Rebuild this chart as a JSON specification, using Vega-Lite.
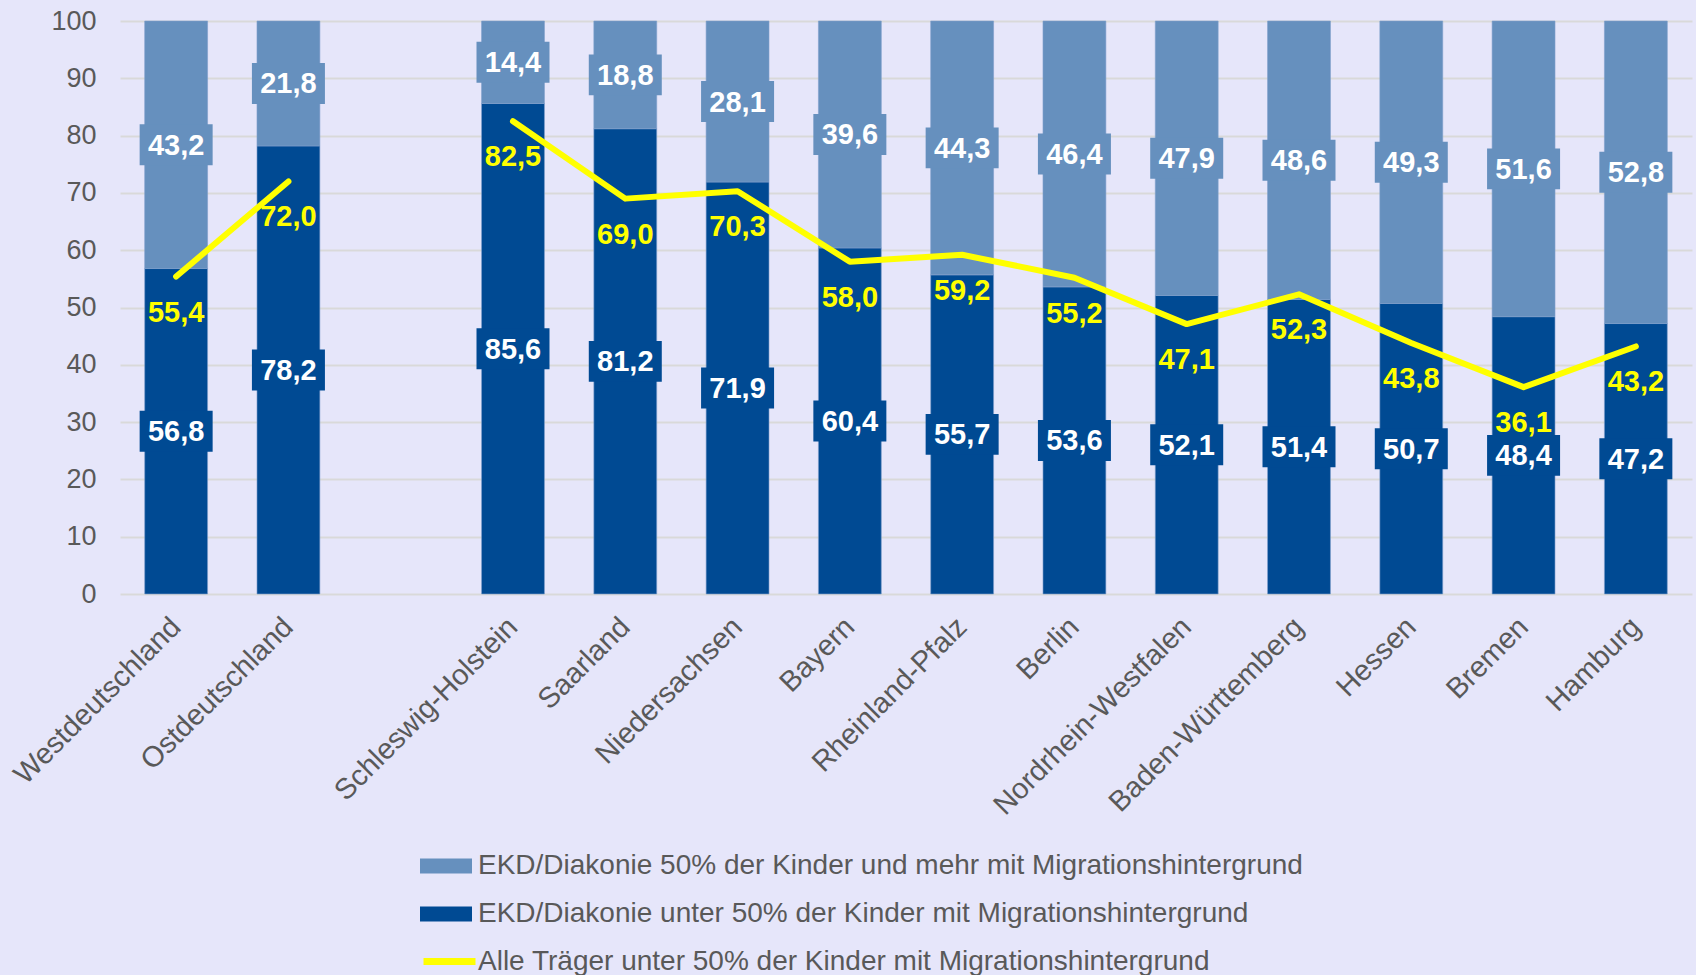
{
  "$schema": "https://vega.github.io/schema/vega-lite/v6.json",
  "autosize": {"type": "none"},
  "padding": {"left": 120, "top": 21, "right": 4, "bottom": 381},
  "width": 1572,
  "height": 573,
  "background": "#E6E6FA",
  "config": {
    "font": "Liberation Sans",
    "view": {"stroke": null},
    "axis": {"labelColor": "#595959", "titleColor": "#595959"},
    "locale": {"number": {"decimal": ",", "thousands": ".", "grouping": [3], "currency": ["", " €"]}}
  },
  "datasets": {
    "bars": [
      {"region": "Westdeutschland", "serie": "EKD/Diakonie unter 50% der Kinder mit Migrationshintergrund", "wert": 56.8},
      {"region": "Westdeutschland", "serie": "EKD/Diakonie 50% der Kinder und mehr mit Migrationshintergrund", "wert": 43.2},
      {"region": "Ostdeutschland", "serie": "EKD/Diakonie unter 50% der Kinder mit Migrationshintergrund", "wert": 78.2},
      {"region": "Ostdeutschland", "serie": "EKD/Diakonie 50% der Kinder und mehr mit Migrationshintergrund", "wert": 21.8},
      {"region": "Schleswig-Holstein", "serie": "EKD/Diakonie unter 50% der Kinder mit Migrationshintergrund", "wert": 85.6},
      {"region": "Schleswig-Holstein", "serie": "EKD/Diakonie 50% der Kinder und mehr mit Migrationshintergrund", "wert": 14.4},
      {"region": "Saarland", "serie": "EKD/Diakonie unter 50% der Kinder mit Migrationshintergrund", "wert": 81.2},
      {"region": "Saarland", "serie": "EKD/Diakonie 50% der Kinder und mehr mit Migrationshintergrund", "wert": 18.8},
      {"region": "Niedersachsen", "serie": "EKD/Diakonie unter 50% der Kinder mit Migrationshintergrund", "wert": 71.9},
      {"region": "Niedersachsen", "serie": "EKD/Diakonie 50% der Kinder und mehr mit Migrationshintergrund", "wert": 28.1},
      {"region": "Bayern", "serie": "EKD/Diakonie unter 50% der Kinder mit Migrationshintergrund", "wert": 60.4},
      {"region": "Bayern", "serie": "EKD/Diakonie 50% der Kinder und mehr mit Migrationshintergrund", "wert": 39.6},
      {"region": "Rheinland-Pfalz", "serie": "EKD/Diakonie unter 50% der Kinder mit Migrationshintergrund", "wert": 55.7},
      {"region": "Rheinland-Pfalz", "serie": "EKD/Diakonie 50% der Kinder und mehr mit Migrationshintergrund", "wert": 44.3},
      {"region": "Berlin", "serie": "EKD/Diakonie unter 50% der Kinder mit Migrationshintergrund", "wert": 53.6},
      {"region": "Berlin", "serie": "EKD/Diakonie 50% der Kinder und mehr mit Migrationshintergrund", "wert": 46.4},
      {"region": "Nordrhein-Westfalen", "serie": "EKD/Diakonie unter 50% der Kinder mit Migrationshintergrund", "wert": 52.1},
      {"region": "Nordrhein-Westfalen", "serie": "EKD/Diakonie 50% der Kinder und mehr mit Migrationshintergrund", "wert": 47.9},
      {"region": "Baden-Württemberg", "serie": "EKD/Diakonie unter 50% der Kinder mit Migrationshintergrund", "wert": 51.4},
      {"region": "Baden-Württemberg", "serie": "EKD/Diakonie 50% der Kinder und mehr mit Migrationshintergrund", "wert": 48.6},
      {"region": "Hessen", "serie": "EKD/Diakonie unter 50% der Kinder mit Migrationshintergrund", "wert": 50.7},
      {"region": "Hessen", "serie": "EKD/Diakonie 50% der Kinder und mehr mit Migrationshintergrund", "wert": 49.3},
      {"region": "Bremen", "serie": "EKD/Diakonie unter 50% der Kinder mit Migrationshintergrund", "wert": 48.4},
      {"region": "Bremen", "serie": "EKD/Diakonie 50% der Kinder und mehr mit Migrationshintergrund", "wert": 51.6},
      {"region": "Hamburg", "serie": "EKD/Diakonie unter 50% der Kinder mit Migrationshintergrund", "wert": 47.2},
      {"region": "Hamburg", "serie": "EKD/Diakonie 50% der Kinder und mehr mit Migrationshintergrund", "wert": 52.8}
    ],
    "linie": [
      {"region": "Westdeutschland", "abschnitt": "Deutschland", "reihe": "Alle Träger unter 50% der Kinder mit Migrationshintergrund", "wert": 55.4},
      {"region": "Ostdeutschland", "abschnitt": "Deutschland", "reihe": "Alle Träger unter 50% der Kinder mit Migrationshintergrund", "wert": 72.0},
      {"region": "Schleswig-Holstein", "abschnitt": "Länder", "reihe": "Alle Träger unter 50% der Kinder mit Migrationshintergrund", "wert": 82.5},
      {"region": "Saarland", "abschnitt": "Länder", "reihe": "Alle Träger unter 50% der Kinder mit Migrationshintergrund", "wert": 69.0},
      {"region": "Niedersachsen", "abschnitt": "Länder", "reihe": "Alle Träger unter 50% der Kinder mit Migrationshintergrund", "wert": 70.3},
      {"region": "Bayern", "abschnitt": "Länder", "reihe": "Alle Träger unter 50% der Kinder mit Migrationshintergrund", "wert": 58.0},
      {"region": "Rheinland-Pfalz", "abschnitt": "Länder", "reihe": "Alle Träger unter 50% der Kinder mit Migrationshintergrund", "wert": 59.2},
      {"region": "Berlin", "abschnitt": "Länder", "reihe": "Alle Träger unter 50% der Kinder mit Migrationshintergrund", "wert": 55.2},
      {"region": "Nordrhein-Westfalen", "abschnitt": "Länder", "reihe": "Alle Träger unter 50% der Kinder mit Migrationshintergrund", "wert": 47.1},
      {"region": "Baden-Württemberg", "abschnitt": "Länder", "reihe": "Alle Träger unter 50% der Kinder mit Migrationshintergrund", "wert": 52.3},
      {"region": "Hessen", "abschnitt": "Länder", "reihe": "Alle Träger unter 50% der Kinder mit Migrationshintergrund", "wert": 43.8},
      {"region": "Bremen", "abschnitt": "Länder", "reihe": "Alle Träger unter 50% der Kinder mit Migrationshintergrund", "wert": 36.1},
      {"region": "Hamburg", "abschnitt": "Länder", "reihe": "Alle Träger unter 50% der Kinder mit Migrationshintergrund", "wert": 43.2}
    ]
  },
  "layer": [
    {
      "data": {"name": "bars"},
      "transform": [
        {"stack": "wert", "groupby": ["region"], "sort": [{"field": "serie", "order": "descending"}], "as": ["v0", "v1"]},
        {"calculate": "(datum.v0 + datum.v1) / 2", "as": "mitte"}
      ],
      "layer": [
        {
          "mark": {"type": "bar", "stroke": "#7E9FCB", "strokeWidth": 1, "strokeOpacity": 0.6},
          "encoding": {
            "x": {
              "field": "region", "type": "nominal", "sort": null,
              "scale": {"domain": ["Westdeutschland", "Ostdeutschland", " ", "Schleswig-Holstein", "Saarland", "Niedersachsen", "Bayern", "Rheinland-Pfalz", "Berlin", "Nordrhein-Westfalen", "Baden-Württemberg", "Hessen", "Bremen", "Hamburg"], "paddingInner": 0.44, "paddingOuter": 0.22},
              "axis": {"title": null, "labelAngle": -45, "labelFontSize": 29, "labelPadding": 18, "labelOffset": -10, "ticks": false, "domain": false, "labelLimit": 400}
            },
            "y": {
              "field": "v0", "type": "quantitative",
              "scale": {"domain": [0, 100], "nice": false},
              "axis": {"title": null, "values": [0, 10, 20, 30, 40, 50, 60, 70, 80, 90, 100], "labelFontSize": 27, "labelPadding": 24, "ticks": false, "domain": false, "gridColor": "#D9D9D9", "gridWidth": 2}
            },
            "y2": {"field": "v1"},
            "color": {
              "field": "serie", "type": "nominal",
              "scale": {
                "domain": ["EKD/Diakonie 50% der Kinder und mehr mit Migrationshintergrund", "EKD/Diakonie unter 50% der Kinder mit Migrationshintergrund"],
                "range": ["#6690BE", "#004A93"]
              },
              "legend": {
                "title": null, "orient": "none", "legendX": 300, "legendY": 819, "direction": "vertical",
                "labelFontSize": 28, "labelColor": "#595959", "labelLimit": 1200, "labelOffset": 6,
                "symbolType": "M-1,-0.29H1V0.29H-1Z", "symbolSize": 2704, "symbolStrokeWidth": 0, "symbolOpacity": 1, "rowPadding": 8
              }
            }
          }
        },
        {
          "mark": {"type": "point", "filled": true, "opacity": 1, "size": 5329, "shape": "M-1,-0.56H1V0.56H-1Z"},
          "encoding": {
            "x": {"field": "region", "type": "nominal", "sort": null},
            "y": {"field": "mitte", "type": "quantitative"},
            "fill": {
              "condition": {"test": "datum.serie === 'EKD/Diakonie unter 50% der Kinder mit Migrationshintergrund'", "value": "#004A93"},
              "value": "#6690BE"
            }
          }
        },
        {
          "mark": {"type": "text", "fontSize": 29, "fontWeight": "bold", "color": "white", "baseline": "middle", "align": "center", "dy": 1},
          "encoding": {
            "x": {"field": "region", "type": "nominal", "sort": null},
            "y": {"field": "mitte", "type": "quantitative"},
            "text": {"field": "wert", "type": "quantitative", "format": ".1f"}
          }
        }
      ]
    },
    {
      "data": {"name": "linie"},
      "layer": [
        {
          "mark": {"type": "line", "strokeWidth": 6, "strokeCap": "round", "strokeJoin": "round"},
          "encoding": {
            "x": {"field": "region", "type": "nominal", "sort": null},
            "y": {"field": "wert", "type": "quantitative"},
            "detail": {"field": "abschnitt"},
            "stroke": {
              "field": "reihe", "type": "nominal",
              "scale": {"domain": ["Alle Träger unter 50% der Kinder mit Migrationshintergrund"], "range": ["#FFFF00"]},
              "legend": {
                "title": null, "orient": "none", "legendX": 300, "legendY": 911, "direction": "vertical",
                "labelFontSize": 28, "labelColor": "#595959", "labelLimit": 1200, "labelOffset": -1,
                "symbolType": "stroke", "symbolSize": 2704, "symbolStrokeWidth": 7
              }
            }
          }
        },
        {
          "mark": {"type": "text", "fontSize": 29, "fontWeight": "bold", "color": "#FFFF00", "baseline": "middle", "align": "center", "dy": 36},
          "encoding": {
            "x": {"field": "region", "type": "nominal", "sort": null},
            "y": {"field": "wert", "type": "quantitative"},
            "text": {"field": "wert", "type": "quantitative", "format": ".1f"}
          }
        }
      ]
    }
  ]
}
